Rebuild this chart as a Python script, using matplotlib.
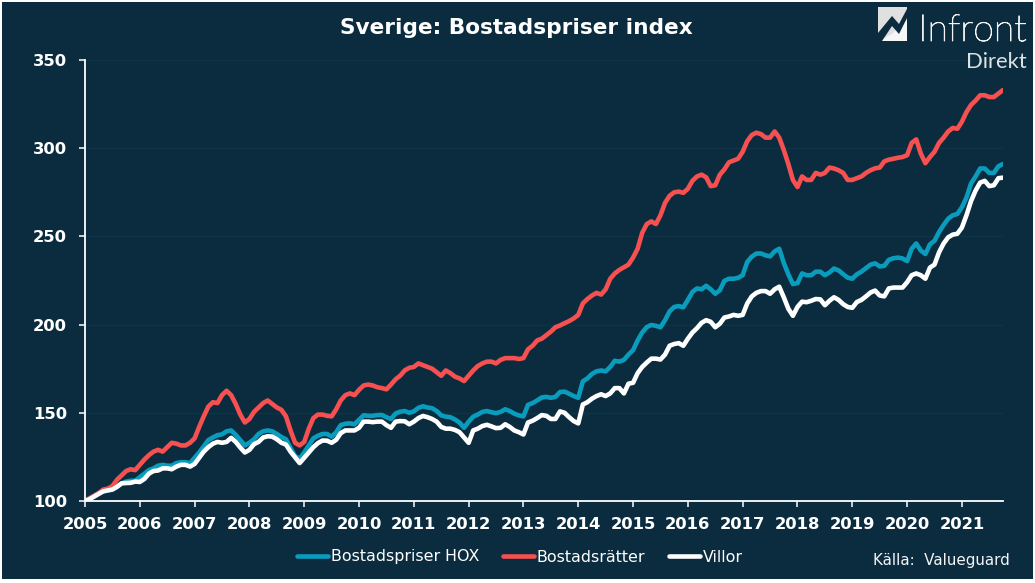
"""Sverige: Bostadspriser index, monthly 2005 to autumn 2021."""
import numpy as np
import matplotlib
matplotlib.use("Agg")
import matplotlib.pyplot as plt
import matplotlib.patheffects as pe
from matplotlib.patches import Polygon, Rectangle

BG = "#0B2C3F"
GRID = "#103246"
TEAL = "#0A9CBC"
RED = "#F65150"
WHITE = "#FFFFFF"
W, H = 1035, 583

years = list(range(2005, 2022))
y_ticks = [100, 150, 200, 250, 300, 350]

# values, one row per year
hox = [
    100, 101.5, 103, 104.5, 105.5, 106, 106.6, 108, 110, 111, 111.5, 111.5,
    113.5, 115.5, 117.5, 118.5, 120, 120.5, 120, 120, 121.5, 122, 122, 121.5,
    124.5, 127.5, 131, 134.5, 136, 137.3, 137.8, 139.5, 140, 137.5, 134.5, 131.5,
    133, 135, 138, 139.5, 140, 139.5, 138, 136.3, 135, 130, 125.5, 124,
    127.5, 131.5, 135.5, 137, 138, 138, 136.5, 139, 143, 143.8, 144, 143.5,
    146, 148.6, 148.3, 148.3, 148.7, 148.8, 147.5, 146.5, 149.6, 150.6, 151, 150,
    150.8, 152.8, 153.7, 153, 152.6, 151, 148.5, 147.8, 147.5, 146.2, 144.5, 141.5,
    145, 147.8, 149, 150.5, 151, 150.3, 149.8, 150.5, 152, 151, 149.5, 148.5,
    148, 154.5, 155.5, 157, 158.7, 159, 158.5, 159, 161.8, 162, 160.8, 159.5,
    158.5, 167.8, 169.5, 172, 173.5, 174, 173.5, 176, 179.5, 179, 180, 183,
    185.5, 191, 195.5, 198.6, 199.8, 199.3, 198.5, 202.5, 207.5, 210, 210.5, 209.8,
    214, 218.5, 220.5, 220, 222, 220, 217.5, 219.5, 224.8, 226, 226, 226.5,
    228, 235.5, 238.5, 240.3, 240.3, 239.3, 238.7, 241.5, 243, 235, 228.5, 223,
    223.5, 229, 228, 228, 230, 230, 228, 229.5, 231.8, 230.7, 228.6, 226.6,
    226, 228.5, 230, 232, 234, 234.7, 233, 233.3, 236.7, 237.6, 238, 237.5,
    236, 243, 246, 242, 240, 245.5, 247.5, 252.5, 256.5, 260, 262, 262.7,
    266.5, 272, 280, 284, 288.5, 288.5, 286, 286, 289.8, 291,
]
bostadsratter = [
    100, 101.5, 103, 104.5, 106.5, 107, 108.5, 112, 114.5, 117, 118, 117.5,
    120.5, 123.5, 126, 128, 129, 128, 130.5, 133, 132.5, 131.5, 131.5, 133,
    135.5, 142, 148, 153.5, 156, 155.5, 160, 162.5, 160, 155, 149, 144.5,
    146.5, 150.5, 153, 155.5, 157, 155, 153, 151.7, 148, 140, 133, 131.5,
    133.5, 141, 147, 149, 149, 148.3, 148, 152, 157, 160, 161, 160,
    163, 165.5, 166, 165.5, 164.5, 164, 163.3, 166, 169, 171, 174, 175.5,
    176, 178, 177, 176, 175, 173, 171, 174, 172.5, 170.5, 169.5, 168,
    171, 174, 176.5, 178, 179, 179, 178, 180, 181, 181, 181, 180.5,
    181, 186, 188, 191, 192, 194, 196, 198.5, 199.5, 200.8, 202, 203.5,
    205.5, 212, 214.5, 216.5, 218, 217, 220, 226, 229, 231, 232.5, 234,
    238, 243, 252, 257, 258.5, 257, 262, 269, 273, 275, 275.4, 274.7,
    277, 281.5, 284, 285, 283.5, 278.5, 279, 285, 288, 292, 293, 294,
    298, 304, 307.5, 308.8, 308, 306, 306, 309.5, 306, 299, 291, 282,
    278, 284, 282, 282, 286, 285, 286, 289, 288.5, 287.5, 286, 282,
    282, 283, 284, 286, 287.5, 288.6, 289, 292.5, 293.5, 294, 294.6, 295,
    296, 303, 305, 297, 291.5, 295, 298, 303, 306, 309.5, 311.5, 311,
    315, 320.5, 324.5, 327, 330, 330, 329, 329, 331, 333,
]
villor = [
    100, 101, 102.5, 104, 105.5, 106, 106.5, 108, 110, 110.2, 110.3, 111,
    110.8, 112.5, 115.5, 117, 117.3, 118.5, 118.5, 118, 119.5, 120.5, 120.5, 119.5,
    121, 124.5, 128, 130.5, 132.5, 133.5, 133, 133.5, 135.8, 133.5, 130.3, 127.5,
    129, 132.2, 133.5, 136, 136.7, 136.5, 135, 133, 132, 128, 124.8, 121.5,
    124.5, 127.5, 130.5, 132.8, 134.3, 134.2, 133, 134.7, 138.5, 140, 140, 140,
    141.5, 145, 145, 144.7, 145, 145, 143, 141.5, 145, 145.3, 145.2, 143.5,
    145, 147, 148.2, 147.5, 146.5, 145, 142, 141, 141, 140.3, 139, 136,
    133, 140, 141, 142.5, 143.2, 142.3, 141.3, 141.5, 143.5, 142, 140, 139,
    137.7, 144.5, 145.5, 147, 148.7, 148.3, 146.5, 146.5, 150.8, 150, 147.5, 145.3,
    144, 154.7, 156, 158, 159.5, 160.5, 159.5, 161, 164, 164, 161, 166.5,
    167, 172.5, 176, 178.5, 180.7, 180.7, 180.2, 183, 188, 189, 189.5, 188,
    192, 195.5, 198, 201, 202.5, 201.6, 198.5, 200.5, 204, 204.6, 205.5, 205,
    205.5, 212, 216, 218, 219, 219, 217.5, 220, 221.5, 215.5, 209, 205,
    210, 213, 212.7, 213.5, 214.5, 214.3, 211, 213.5, 215.5, 214, 211.6, 210,
    209.5, 212.8, 214, 216, 218.2, 219.3, 216.5, 216, 220.5, 221, 221, 221,
    224, 228, 229, 228, 226, 232.3, 234, 241, 246, 249.5, 251, 251.5,
    255, 262, 270, 276, 280.5, 281.5, 278.5, 279, 283, 283.3,
]

x = 2005 + np.arange(len(hox)) / 12

fig = plt.figure(figsize=(W / 100, H / 100), dpi=100, facecolor="white")
fig.add_artist(Rectangle((2 / W, 1 - 579 / H), 1031 / W, 577 / H, zorder=-1,
                         transform=fig.transFigure, facecolor=BG, edgecolor="none"))

ax = fig.add_axes([85 / W, 1 - 501 / H, 918 / W, 441 / H])
ax.patch.set_alpha(0)

line_kw = dict(linewidth=3.3, solid_capstyle="round", solid_joinstyle="round")
ax.plot(x, hox, color=TEAL, label="Bostadspriser HOX", **line_kw)
ax.plot(x, bostadsratter, color=RED, label="Bostadsrätter", **line_kw)
ax.plot(x, villor, color=WHITE, label="Villor", **line_kw)

ax.set_xlim(x[0], x[-1])
ax.set_ylim(100, 350)
ax.set_xticks(years, [str(v) for v in years], fontweight="bold", fontsize=11.8)
ax.set_yticks(y_ticks, [str(v) for v in y_ticks], fontweight="bold", fontsize=11.8)
ax.grid(axis="y", color=GRID, linewidth=1)
ax.set_axisbelow(True)
for s in ["top", "right"]:
    ax.spines[s].set_visible(False)
for s in ["left", "bottom"]:
    ax.spines[s].set_color(WHITE)
    ax.spines[s].set_linewidth(1.3)
ax.tick_params(axis="x", colors=WHITE, length=4.3, width=1.1, pad=7)
ax.tick_params(axis="y", colors=WHITE, length=4.3, width=1.1, pad=8.5)

fig.text(516 / W, 1 - 28 / H, "Sverige: Bostadspriser index", color=WHITE,
         fontsize=15.6, fontweight="bold", ha="center", va="center")

fig.legend(*ax.get_legend_handles_labels(), loc="center", ncol=3, frameon=False,
           bbox_to_anchor=(520 / W, 1 - 557 / H), fontsize=11.4, labelcolor=WHITE,
           handlelength=1.95, handletextpad=0.2, columnspacing=1.5, borderpad=0)

fig.text(1010 / W, 1 - 560 / H, "Källa:  Valueguard", color="#F2F4F5",
         fontsize=10.9, ha="right", va="center")

# logo, top right
def px(points):
    return [(a / W, 1 - b / H) for a, b in points]

fig.add_artist(Polygon(px([(878, 7), (907, 7), (907, 41), (878, 41)]),
                       transform=fig.transFigure, facecolor="#E0E0E0", edgecolor="none"))
fig.add_artist(Polygon(px([(878, 41), (907, 41), (907, 20), (892, 34)]),
                       transform=fig.transFigure, facecolor="#F6F6F6", edgecolor="none"))
fig.add_artist(Polygon(px([(878, 33), (892, 16), (899, 24), (907, 9), (907, 18),
                           (899, 34), (892, 26), (882, 41), (878, 41)]),
                       transform=fig.transFigure, facecolor=BG, edgecolor="none"))
fig.text(1027 / W, 1 - 41 / H, "Infront", color="#F4F4F4", fontsize=27,
         family="Lato", fontweight="light", ha="right", va="baseline",
         path_effects=[pe.withStroke(linewidth=0.6, foreground="#F4F4F4")])
fig.text(1027 / W, 1 - 68 / H, "Direkt", color="#DDE1E4", fontsize=15.8,
         family="Lato", ha="right", va="baseline")

fig.savefig("out.png", dpi=100, facecolor=fig.get_facecolor())
plt.close(fig)
